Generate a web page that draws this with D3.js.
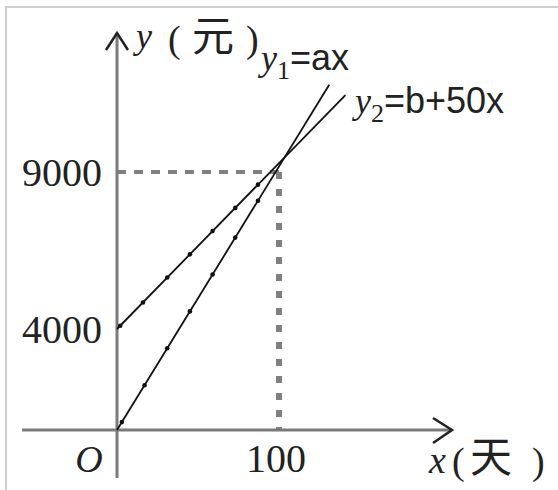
<!DOCTYPE html>
<html>
<head>
<meta charset="utf-8">
<script src="https://cdn.jsdelivr.net/npm/d3@7"></script>
<style>
  body { margin: 0; background: #fff; }
  svg { display: block; }
</style>
</head>
<body>
<div id="chart-area"></div>
<script>
// values
const xTicks = [100];
const yTicks = [4000, 9000];
const crossX = 100;
const crossY = 9000;

// y1 = a x : from origin up past the crossing
const line1X = [0, 131];
const line1Y = [0, 11780];
// y2 = b + 50x : starts at 4000
const line2X = [0, 141];
const line2Y = [4000, 11450];

// little drafting dots along each line (x positions)
const dots1X = [3, 17, 31, 45, 59, 73, 87];
const dots2X = [2, 16, 31, 45, 59, 73, 87];

const width = 558;
const height = 490;

const svg = d3.select('#chart-area')
    .append('svg')
    .attr('width', width)
    .attr('height', height);

// the picture is not drawn to scale, so the y scale is piecewise
const x = d3.scaleLinear()
    .domain([0, 100])
    .range([117, 279]);

const y = d3.scaleLinear()
    .domain([0, 4000, 9000])
    .range([430, 329, 172]);

const x0 = x(0), y0 = y(0);

// frame (only left and top edges show)
svg.append('path')
    .attr('d', 'M6,490 L6,7 L558,7')
    .attr('fill', 'none')
    .attr('stroke', '#cfcfcf')
    .attr('stroke-width', 2);

// dashed guides to the crossing point
svg.append('line')
    .attr('x1', x0).attr('x2', x(crossX))
    .attr('y1', y(crossY)).attr('y2', y(crossY))
    .attr('stroke', '#808080')
    .attr('stroke-width', 4)
    .attr('stroke-dasharray', '9,8');

svg.append('line')
    .attr('x1', x(crossX)).attr('x2', x(crossX))
    .attr('y1', y(crossY)).attr('y2', y0)
    .attr('stroke', '#808080')
    .attr('stroke-width', 6)
    .attr('stroke-dasharray', '7,10');

// axes
svg.append('line')
    .attr('x1', 22).attr('x2', 452)
    .attr('y1', y0).attr('y2', y0)
    .attr('stroke', '#7a7a7a')
    .attr('stroke-width', 3);

svg.append('line')
    .attr('x1', x0).attr('x2', x0)
    .attr('y1', 478).attr('y2', 33)
    .attr('stroke', '#7a7a7a')
    .attr('stroke-width', 3);

// arrow heads
svg.append('path')
    .attr('d', `M433,418 L452,${y0} L433,443`)
    .attr('fill', 'none')
    .attr('stroke', '#222')
    .attr('stroke-width', 2.5);

svg.append('path')
    .attr('d', `M106,50 L${x0},33 L128,50`)
    .attr('fill', 'none')
    .attr('stroke', '#222')
    .attr('stroke-width', 2.5);

// the two lines
const lineGen = d3.line()
    .x(d => x(d[0]))
    .y(d => y(d[1]));

const series = [
    { xs: line1X, ys: line1Y, dots: dots1X },
    { xs: line2X, ys: line2Y, dots: dots2X }
];

series.forEach(s => {
    svg.append('path')
        .attr('d', lineGen(d3.zip(s.xs, s.ys)))
        .attr('fill', 'none')
        .attr('stroke', '#111')
        .attr('stroke-width', 1.8);

    // dots sit on the drawn (pixel-straight) segment
    const px = d3.scaleLinear()
        .domain(s.xs)
        .range([y(s.ys[0]), y(s.ys[1])]);

    svg.selectAll(null)
        .data(s.dots)
        .enter()
        .append('circle')
        .attr('cx', d => x(d))
        .attr('cy', d => px(d))
        .attr('r', 2.3)
        .attr('fill', '#111');
});

// tick labels
const serif = '"Liberation Serif", "DejaVu Serif", serif';
const sans = '"Liberation Sans", Arial, sans-serif';
const cjk = '"Noto Sans CJK SC", sans-serif';

svg.selectAll('.ylab')
    .data(yTicks)
    .enter()
    .append('text')
    .attr('class', 'ylab')
    .attr('x', 102)
    .attr('y', d => y(d) + 14)
    .attr('text-anchor', 'end')
    .attr('font-family', serif)
    .attr('font-size', 40)
    .attr('fill', '#222')
    .text(d => d);

svg.selectAll('.xlab')
    .data(xTicks)
    .enter()
    .append('text')
    .attr('class', 'xlab')
    .attr('x', d => x(d) - 3)
    .attr('y', 472)
    .attr('text-anchor', 'middle')
    .attr('font-family', serif)
    .attr('font-size', 40)
    .attr('fill', '#222')
    .text(d => d);

svg.append('text')
    .attr('x', 89).attr('y', 472)
    .attr('text-anchor', 'middle')
    .attr('font-family', serif)
    .attr('font-style', 'italic')
    .attr('font-size', 38)
    .attr('fill', '#222')
    .text('O');

// axis titles
function title(parts) {
    parts.forEach(p => {
        svg.append('text')
            .attr('x', p.x).attr('y', p.y)
            .attr('font-family', p.font)
            .attr('font-style', p.italic ? 'italic' : 'normal')
            .attr('font-size', p.size)
            .attr('fill', '#222')
            .text(p.t);
    });
}

title([
    { t: 'y', x: 136, y: 48, font: serif, italic: true, size: 36 },
    { t: '(', x: 168, y: 52, font: serif, size: 38 },
    { t: '元', x: 192, y: 51, font: cjk, size: 42 },
    { t: ')', x: 246, y: 52, font: serif, size: 38 }
]);

title([
    { t: 'x', x: 429, y: 473, font: serif, italic: true, size: 38 },
    { t: '(', x: 452, y: 474, font: serif, size: 38 },
    { t: '天', x: 470, y: 472, font: cjk, size: 42 },
    { t: ')', x: 532, y: 474, font: serif, size: 38 }
]);

// line labels
function lineLabel(lx, ly, sub, rest) {
    const t = svg.append('text')
        .attr('x', lx).attr('y', ly)
        .attr('fill', '#222');
    t.append('tspan')
        .attr('font-family', serif)
        .attr('font-style', 'italic')
        .attr('font-size', 36)
        .text('y');
    t.append('tspan')
        .attr('font-family', serif)
        .attr('font-size', 26)
        .attr('dy', 9)
        .text(sub);
    t.append('tspan')
        .attr('font-family', sans)
        .attr('font-size', 36)
        .attr('dy', -9)
        .text(rest);
}

lineLabel(261, 70, '1', '=ax');
lineLabel(355, 113, '2', '=b+50x');
</script>
</body>
</html>
